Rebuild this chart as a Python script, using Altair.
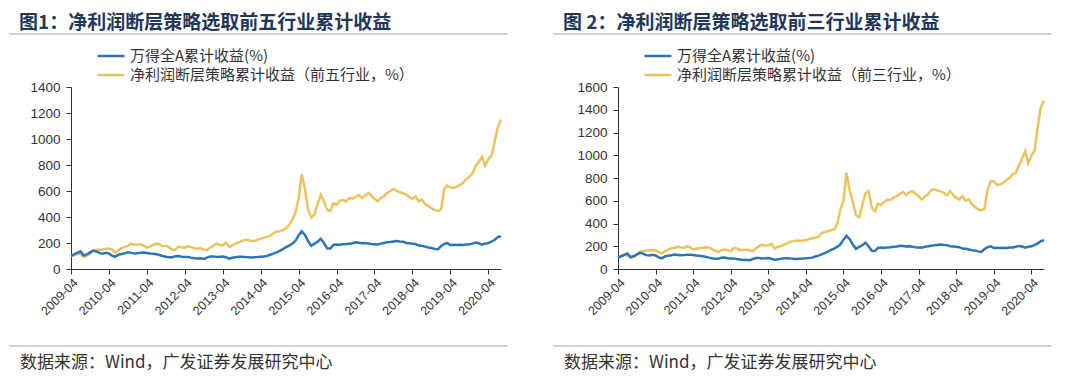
import altair as alt
import pandas as pd

# ---------------- data ----------------
start_month = "2009-04-01"
end_month = "2020-08-01"
months = pd.date_range(start_month, end_month, freq="MS").strftime("%Y-%m-%d").tolist()

# 万得全A累计收益(%)
wind_a = [
    100, 112, 125, 136, 105, 112, 128, 142, 135, 122, 118, 124,
    120, 102, 94, 110, 116, 121, 128, 124, 120, 122, 125, 126,
    123, 119, 117, 113, 108, 100, 94, 91, 90, 98, 100, 95,
    92, 93, 87, 83, 80, 82, 78, 88, 96, 97, 93, 94,
    96, 90, 80, 86, 90, 95, 94, 92, 91, 88, 90, 92,
    95, 97, 100, 110, 118, 128, 140, 152, 168, 180, 196, 215,
    258, 291, 262, 215, 178, 195, 210, 232, 200, 160, 158, 185,
    188, 186, 190, 192, 195, 198, 205, 202, 198, 200, 196, 192,
    190, 188, 195, 200, 205, 208, 212, 215, 212, 210, 200, 198,
    195, 192, 180, 178, 172, 165, 162, 155, 150, 175, 192, 200,
    185, 186, 185, 187, 185, 188, 190, 195, 203, 198, 188, 195,
    200, 210, 225, 245, 252,
]

# 净利润断层策略累计收益（前五行业，%）
strategy_top5 = [
    100, 108, 115, 118, 92, 102, 115, 140, 146, 148, 150, 155,
    156, 150, 125, 145, 160, 170, 178, 195, 186, 188, 190, 180,
    165, 172, 185, 195, 190, 175, 178, 168, 150, 148, 172, 168,
    164, 174, 168, 160, 158, 160, 150, 145, 165, 178, 195, 185,
    182, 203, 172, 182, 195, 205, 215, 224, 222, 218, 216, 225,
    234, 240, 247, 255, 275, 286, 290, 299, 312, 340, 380, 430,
    540, 728, 620, 460, 395, 420, 500, 570, 520, 455, 445, 505,
    495, 525, 530, 520, 545, 540, 552, 570, 545, 565, 585, 565,
    540, 520, 545, 560, 585, 600, 616, 600, 590, 585, 572, 555,
    541, 558, 520, 533, 500, 485, 468, 455, 447, 455, 611, 642,
    630, 624, 632, 645, 663, 690, 710, 735, 790, 825, 866, 793,
    845, 870, 980, 1090, 1150,
]

# 净利润断层策略累计收益（前三行业，%）
strategy_top3 = [
    100, 112, 125, 118, 98, 108, 125, 150, 158, 163, 165, 166,
    162, 150, 136, 158, 170, 182, 186, 195, 190, 185, 200, 190,
    172, 178, 183, 186, 192, 190, 178, 160, 150, 165, 172, 165,
    157, 186, 180, 166, 168, 172, 165, 157, 180, 201, 212, 205,
    210, 222, 180, 195, 201, 215, 225, 240, 245, 251, 248, 250,
    255, 262, 270, 275, 285, 315, 325, 332, 340, 347, 400, 520,
    600, 847, 690, 590, 470, 455, 560, 665, 685, 540, 505, 575,
    565, 590, 611, 605, 630, 641, 660, 676, 650, 675, 685, 660,
    640, 611, 640, 656, 695, 700, 690, 680, 670, 647, 685, 650,
    625, 611, 641, 600, 611, 570, 545, 523, 517, 529, 700, 770,
    773, 740, 745, 758, 780, 800, 832, 847, 910, 970, 1038, 929,
    1000, 1040, 1250, 1420, 1480,
]

tick_years = list(range(2009, 2021))          # labels 2009-04 ... 2020-04
titles = ["图1：净利润断层策略选取前五行业累计收益", "图 2：净利润断层策略选取前三行业累计收益"]
name_a = "万得全A累计收益(%)"
name_top5 = "净利润断层策略累计收益（前五行业，%）"
name_top3 = "净利润断层策略累计收益（前三行业，%）"
source_text = "数据来源：Wind，广发证券发展研究中心"
y_max = [1400, 1600]
y_step = 200

BLUE = "#2E75B6"
GOLD = "#E9C45E"
NAVY = "#1F3759"
DARK = "#333333"
NUM_FONT = "Liberation Sans"
CJK_FONT = "Noto Sans CJK SC"
PLOT_H = 182


def panel(title, strat_name, strat_vals, ymax, width, left_ext, right_ext):
    n = len(months)
    df = pd.DataFrame({
        "date": months + months,
        "series": [strat_name] * n + [name_a] * n,
        "value": list(strat_vals) + list(wind_a),
    })
    x_enc = alt.X(
        "date:T",
        scale=alt.Scale(
            type="utc",
            domain=[alt.DateTime(year=2009, month=4, date=1, utc=True),
                    alt.DateTime(year=2020, month=8, date=1, utc=True)],
            nice=False,
        ),
        axis=alt.Axis(
            values=[alt.DateTime(year=yy, month=4, date=1, utc=True) for yy in tick_years],
            format="%Y-%m",
            labelAngle=315,
            labelFontSize=12.5,
            labelFont=NUM_FONT,
            labelColor=DARK,
            labelPadding=2,
            tickSize=5,
            tickColor=DARK,
            domainColor=DARK,
            grid=False,
            title=None,
            labelOverlap=False,
        ),
    )
    y_enc = alt.Y(
        "value:Q",
        scale=alt.Scale(domain=[0, ymax], nice=False),
        axis=alt.Axis(
            values=list(range(0, ymax + 1, y_step)),
            format="d",
            labelFontSize=13.5,
            labelFont=NUM_FONT,
            labelColor=DARK,
            tickSize=5,
            tickColor=DARK,
            domainColor=DARK,
            labelPadding=6,
            grid=False,
            title=None,
        ),
    )
    color_enc = alt.Color(
        "series:N",
        scale=alt.Scale(domain=[name_a, strat_name], range=[BLUE, GOLD]),
        legend=alt.Legend(
            orient="none",
            legendX=32,
            legendY=-39,
            title=None,
            symbolType="M-2,0H2",
            symbolSize=182,
            symbolStrokeWidth=2.5,
            labelFontSize=15,
            labelFont=CJK_FONT,
            labelColor=DARK,
            labelOffset=11,
            labelLimit=0,
            rowPadding=3,
            padding=0,
        ),
    )
    lines = alt.Chart(df).mark_line(strokeWidth=2.5).encode(
        x=x_enc, y=y_enc, color=color_enc
    )

    one = alt.Data(values=[{"t": title}])
    title_mark = alt.Chart(one).mark_text(
        align="left", baseline="middle", fontSize=19, fontWeight="bold",
        font=CJK_FONT, color=NAVY,
    ).encode(text="t:N", x=alt.value(-left_ext + 10), y=alt.value(-64.5))

    src = alt.Data(values=[{"t": source_text}])
    source_mark = alt.Chart(src).mark_text(
        align="left", baseline="middle", fontSize=17, font=CJK_FONT, color=DARK,
    ).encode(text="t:N", x=alt.value(-left_ext + 11), y=alt.value(276))

    rule_data = alt.Data(values=[{"k": 1}])
    top_rule = alt.Chart(rule_data).mark_rule(color="#A6A6A6", strokeWidth=1).encode(
        x=alt.value(-left_ext), x2=alt.value(width + right_ext), y=alt.value(-53)
    )
    bottom_rule = alt.Chart(rule_data).mark_rule(color="#A6A6A6", strokeWidth=1).encode(
        x=alt.value(-left_ext), x2=alt.value(width + right_ext), y=alt.value(259)
    )

    return alt.layer(top_rule, bottom_rule, title_mark, source_mark, lines).properties(
        width=width, height=PLOT_H
    )


p1 = panel(titles[0], name_top5, strategy_top5, y_max[0], 430, 62, 6.5)
p2 = panel(titles[1], name_top3, strategy_top3, y_max[1], 426, 65, 7)

chart = (
    alt.hconcat(p1, p2, spacing=44)
    .resolve_scale(color="independent")
    .resolve_legend(color="independent")
    .properties(padding={"top": 5, "bottom": 6, "left": 0, "right": 4}, background="white")
    .configure_view(stroke=None)
)

chart.save("out.html", embed_options={"renderer": "svg", "actions": False})
